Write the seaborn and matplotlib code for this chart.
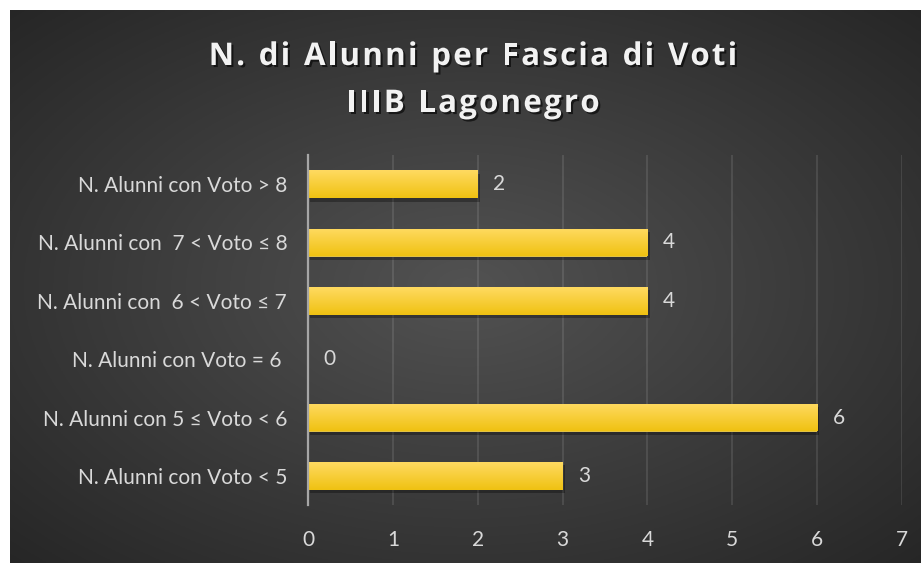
import matplotlib.pyplot as plt
import matplotlib.patheffects as pe
import seaborn as sns
import pandas as pd
import numpy as np

# Dati del grafico
categorie = [
    "N. Alunni con Voto > 8",
    "N. Alunni con  7 < Voto ≤ 8",
    "N. Alunni con  6 < Voto ≤ 7",
    "N. Alunni con Voto = 6 ",
    "N. Alunni con 5 ≤ Voto < 6",
    "N. Alunni con Voto < 5",
]
n_alunni = [2, 4, 4, 0, 6, 3]
x_ticks = [0, 1, 2, 3, 4, 5, 6, 7]
titolo = ["N. di Alunni per Fascia di Voti", "IIIB Lagonegro"]

df = pd.DataFrame({"categoria": categorie, "alunni": n_alunni})

W, H = 921, 563
fig = plt.figure(figsize=(W / 100, H / 100), dpi=100)
fig.patch.set_facecolor("white")

# sfondo scuro con gradiente radiale
bg = fig.add_axes([10 / W, 0, (W - 10) / W, (H - 10) / H])
bg.set_axis_off()
yy, xx = np.mgrid[0:1:300j, 0:1:500j]
r = np.sqrt(((xx - 0.5) / 0.75) ** 2 + ((yy - 0.5) / 0.75) ** 2)
r = np.clip(r / 0.95, 0, 1)
c0, c1 = np.array([0x52, 0x52, 0x52]) / 255, np.array([0x26, 0x26, 0x26]) / 255
img = c0[None, None, :] * (1 - r[..., None]) + c1[None, None, :] * r[..., None]
bg.imshow(img, extent=(0, 1, 0, 1), aspect="auto")
bg.set_xlim(0, 1)
bg.set_ylim(0, 1)

font = ["Lato", "DejaVu Sans"]
testo = "#d9d9d9"
fs = 15

ax = fig.add_axes([308 / W, 58 / H, 594 / W, 350 / H])
ax.set_facecolor("none")
sns.barplot(data=df, x="alunni", y="categoria", orient="h", color="#fcd12a",
            width=0.48, ax=ax, zorder=3)

# gradiente e ombra sulle barre
grad = np.linspace(0, 1, 64)[:, None]
top, bot = np.array([1.0, 0.855, 0.38]), np.array([0.94, 0.76, 0.07])
gimg = top[None, None, :] * (1 - grad[..., None]) + bot[None, None, :] * grad[..., None]
for p in ax.patches:
    p.set_path_effects([pe.SimplePatchShadow(offset=(1.5, -2.5), shadow_rgbFace="black", alpha=0.3), pe.Normal()])
    x0, y0, w, h = p.get_x(), p.get_y(), p.get_width(), p.get_height()
    if w > 0:
        im = ax.imshow(gimg, extent=(x0, x0 + w, y0 + h, y0), aspect="auto", zorder=4)
        im.set_clip_path(p)

ax.set_xlim(0, 7)
ax.set_ylim(5.5, -0.5)
ax.set_xticks(x_ticks)
ax.set_xlabel("")
ax.set_ylabel("")
ax.grid(axis="x", color="white", alpha=0.12, linewidth=1.2, zorder=0)
ax.grid(axis="y", visible=False)
for s in ["top", "right", "bottom"]:
    ax.spines[s].set_visible(False)
ax.spines["left"].set_color("#a6a6a6")
ax.spines["left"].set_linewidth(1.6)
ax.spines["left"].set_zorder(5)
ax.tick_params(axis="x", length=0, pad=18, labelcolor=testo, labelsize=fs)
ax.tick_params(axis="y", length=0, pad=15, labelcolor=testo, labelsize=fs)
for t in ax.get_xticklabels() + ax.get_yticklabels():
    t.set_family(font)

for cont in ax.containers:
    ax.bar_label(cont, padding=11, color=testo, fontsize=fs, family=font)

# titolo con spaziatura tra le lettere
renderer = fig.canvas.get_renderer()
tfont = dict(color="#f2f2f2", fontsize=22.5, fontweight="bold",
             family=["Open Sans", "DejaVu Sans"], va="baseline", ha="left",
             path_effects=[pe.withSimplePatchShadow(offset=(1.5, -1.5), shadow_rgbFace="black", alpha=0.6)])
track = 2.2  # px extra tra i caratteri
for riga, yb in zip(titolo, [65, 112]):
    widths = []
    for ch in riga:
        t = fig.text(0, 0, ch if ch != " " else "n", **tfont)
        wpx = t.get_window_extent(renderer).width
        if ch == " ":
            wpx *= 0.45
        widths.append(wpx)
        t.remove()
    total = sum(widths) + track * (len(riga) - 1)
    x = 473 - total / 2
    for ch, wpx in zip(riga, widths):
        if ch != " ":
            fig.text(x / W, 1 - yb / H, ch, **tfont)
        x += wpx + track

fig.savefig("out.png", dpi=100, facecolor=fig.get_facecolor())
